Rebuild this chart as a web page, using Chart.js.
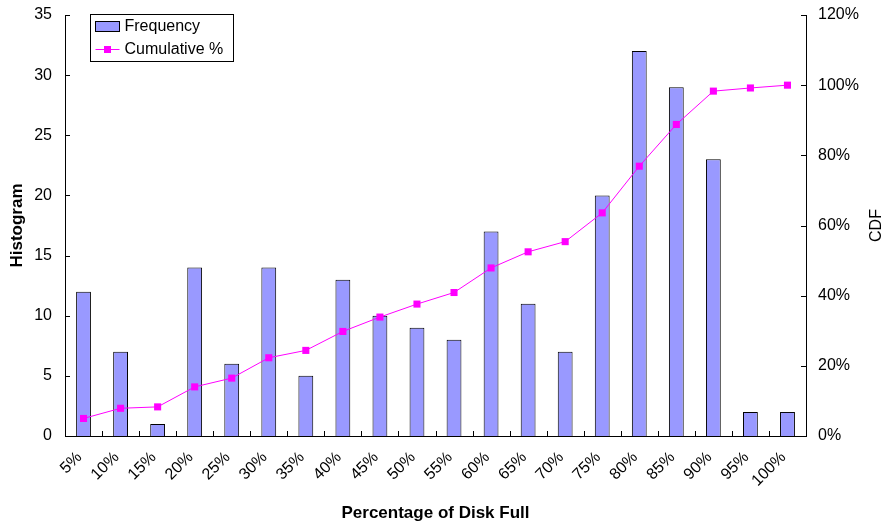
<!DOCTYPE html>
<html>
<head>
<meta charset="utf-8">
<script src="https://cdn.jsdelivr.net/npm/chart.js@4.4.1/dist/chart.umd.min.js"></script>
<style>
  html, body { margin: 0; padding: 0; background: #fff; }
  #wrap { width: 884px; height: 525px; position: relative; }
</style>
</head>
<body>
<div id="wrap"><canvas id="diskChart" width="884" height="525"></canvas></div>
<script>
// values
const binLabels = ['5%', '10%', '15%', '20%', '25%', '30%', '35%', '40%', '45%', '50%',
    '55%', '60%', '65%', '70%', '75%', '80%', '85%', '90%', '95%', '100%'];
const frequency = [12, 7, 1, 14, 6, 14, 5, 13, 10, 9, 8, 17, 11, 7, 20, 32, 29, 23, 2, 2];
const cumulativePct = [5.0, 7.9, 8.3, 14.0, 16.5, 22.3, 24.4, 29.8, 33.9, 37.6,
    40.9, 47.9, 52.5, 55.4, 63.6, 76.9, 88.8, 98.3, 99.2, 100];

const xTitle = 'Percentage of Disk Full';
const leftTitle = 'Histogram';
const rightTitle = 'CDF';

const FONT = '"Liberation Sans", Arial, sans-serif';
const barFill = '#9999FF';
const lineColor = '#FF00FF';

// Excel style ticks pointing into the plot, plus the boxed legend and the CDF title
const excelBits = {
    id: 'excelBits',
    afterDraw(chart) {
        const ctx = chart.ctx;
        const area = chart.chartArea;
        const x = chart.scales.x, y = chart.scales.y, y1 = chart.scales.y1;
        ctx.save();
        ctx.strokeStyle = '#000';
        ctx.lineWidth = 1;
        ctx.beginPath();
        for (let i = 1; i < binLabels.length; i++) {
            const px = Math.round((x.getPixelForValue(i - 1) + x.getPixelForValue(i)) / 2) + 0.5;
            ctx.moveTo(px, area.bottom);
            ctx.lineTo(px, area.bottom - 5);
        }
        y.ticks.forEach((t, i) => {
            const py = Math.round(y.getPixelForTick(i)) + 0.5;
            ctx.moveTo(area.left, py);
            ctx.lineTo(area.left + 5, py);
        });
        y1.ticks.forEach((t, i) => {
            const py = Math.round(y1.getPixelForTick(i)) + 0.5;
            ctx.moveTo(area.right, py);
            ctx.lineTo(area.right - 5, py);
        });
        ctx.stroke();

        // legend box
        const lx = area.left + 25.5, ly = area.top - 0.5, lw = 143, lh = 47;
        ctx.fillStyle = '#fff';
        ctx.fillRect(lx, ly, lw, lh);
        ctx.strokeRect(lx, ly, lw, lh);
        ctx.font = '16px ' + FONT;
        ctx.textBaseline = 'middle';
        ctx.fillStyle = barFill;
        ctx.fillRect(lx + 5, ly + 7, 24, 10);
        ctx.strokeRect(lx + 5, ly + 7, 24, 10);
        ctx.fillStyle = '#000';
        ctx.fillText(chart.data.datasets[0].label, lx + 34, ly + 12);
        ctx.strokeStyle = lineColor;
        ctx.beginPath();
        ctx.moveTo(lx + 5, ly + 35);
        ctx.lineTo(lx + 29, ly + 35);
        ctx.stroke();
        ctx.fillStyle = lineColor;
        ctx.fillRect(lx + 13.5, ly + 31.5, 7, 7);
        ctx.fillStyle = '#000';
        ctx.fillText(chart.data.datasets[1].label, lx + 34, ly + 35);

        // right axis title, reads bottom to top
        ctx.font = '16px ' + FONT;
        ctx.translate(877, (area.top + area.bottom) / 2);
        ctx.rotate(-Math.PI / 2);
        ctx.textAlign = 'center';
        ctx.fillText(rightTitle, 0, 0);
        ctx.restore();
    }
};

new Chart(document.getElementById('diskChart'), {
    type: 'bar',
    data: {
        labels: binLabels,
        datasets: [
            {
                type: 'bar',
                label: 'Frequency',
                data: frequency,
                backgroundColor: barFill,
                borderColor: '#000',
                borderWidth: 1,
                categoryPercentage: 1,
                barPercentage: 0.4,
                yAxisID: 'y',
                order: 1
            },
            {
                type: 'line',
                label: 'Cumulative %',
                data: cumulativePct,
                borderColor: lineColor,
                borderWidth: 1,
                pointStyle: 'rect',
                pointRadius: 5,
                pointBackgroundColor: lineColor,
                pointBorderColor: lineColor,
                pointBorderWidth: 0,
                tension: 0,
                yAxisID: 'y1',
                order: 0
            }
        ]
    },
    options: {
        responsive: false,
        animation: false,
        layout: { padding: { top: 15, left: 0, right: 0, bottom: 0 } },
        plugins: {
            legend: { display: false },
            tooltip: { enabled: false }
        },
        scales: {
            x: {
                offset: true,
                grid: { display: false, drawTicks: false },
                border: { color: '#000', width: 1 },
                ticks: {
                    autoSkip: false,
                    minRotation: 45,
                    maxRotation: 45,
                    padding: 12,
                    labelOffset: -4,
                    color: '#000',
                    font: { family: FONT, size: 16 }
                },
                title: {
                    display: true,
                    text: xTitle,
                    color: '#000',
                    font: { family: FONT, size: 17, weight: 'bold' },
                    padding: { top: 0, bottom: 1 }
                },
                afterFit: (s) => { s.height = 89; }
            },
            y: {
                position: 'left',
                min: 0,
                max: 35,
                grid: { display: false, drawTicks: false },
                border: { color: '#000', width: 1 },
                ticks: {
                    stepSize: 5,
                    padding: 13,
                    color: '#000',
                    font: { family: FONT, size: 16 }
                },
                title: {
                    display: true,
                    text: leftTitle,
                    color: '#000',
                    font: { family: FONT, size: 17, weight: 'bold' },
                    padding: { top: 7, bottom: 0 }
                },
                afterFit: (s) => { s.width = 65; s.paddingTop = 0; s.paddingBottom = 0; }
            },
            y1: {
                position: 'right',
                min: 0,
                max: 120,
                grid: { display: false, drawTicks: false },
                border: { color: '#000', width: 1 },
                ticks: {
                    stepSize: 20,
                    padding: 12,
                    color: '#000',
                    font: { family: FONT, size: 16 },
                    callback: (v) => v + '%'
                },
                afterFit: (s) => { s.width = 78; s.paddingTop = 0; s.paddingBottom = 0; }
            }
        }
    },
    plugins: [excelBits]
});
</script>
</body>
</html>
